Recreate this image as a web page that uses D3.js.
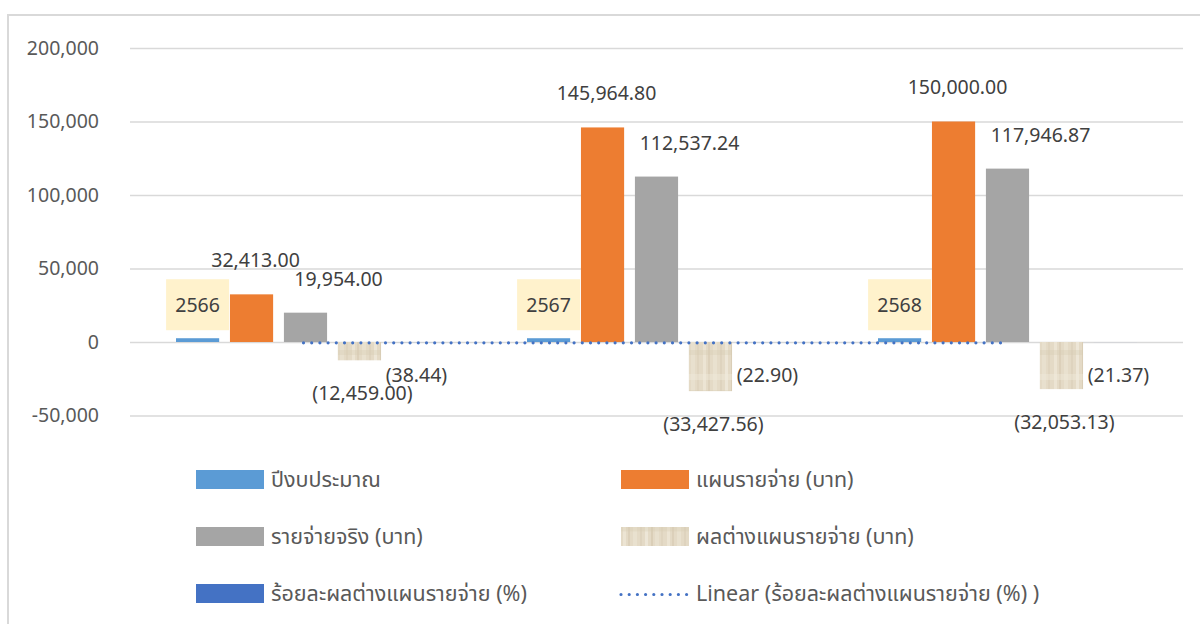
<!DOCTYPE html>
<html>
<head>
<meta charset="utf-8">
<script src="https://cdn.jsdelivr.net/npm/d3@7"></script>
<style>
    body { margin: 0; background: #fff; }
    svg { display: block; font-family: "Noto Sans", "Noto Sans Thai", Tahoma, sans-serif; }
</style>
</head>
<body>
<svg id="base" width="1200" height="624"></svg>
<script>
// data
const years = ["2566", "2567", "2568"];
const seriesNames = [
    "ปีงบประมาณ",
    "แผนรายจ่าย (บาท)",
    "รายจ่ายจริง  (บาท)",
    "ผลต่างแผนรายจ่าย (บาท)",
    "ร้อยละผลต่างแผนรายจ่าย (%)",
];
const budgetYear = [2566, 2567, 2568];
const planned = [32413.0, 145964.8, 150000.0];
const actual = [19954.0, 112537.24, 117946.87];
const diff = [-12459.0, -33427.56, -32053.13];
const diffPct = [-38.44, -22.9, -21.37];
const yTicks = [-50000, 0, 50000, 100000, 150000, 200000];
const trendName = "Linear (ร้อยละผลต่างแผนรายจ่าย (%) )";

(function () {
    const base = d3.select("#base");
    const colors = ["#5B9BD5", "#ED7D31", "#A5A5A5", "url(#papyrus)", "#4472C4"];
    const values = [budgetYear, planned, actual, diff, diffPct];

    // papyrus-like texture for the difference series
    const defs = base.append("defs");
    const pat = defs
        .append("pattern")
        .attr("id", "papyrus")
        .attr("patternUnits", "userSpaceOnUse")
        .attr("width", 44)
        .attr("height", 40);
    pat.append("rect").attr("width", 44).attr("height", 40).attr("fill", "#E4DAC6");
    const stripes = [
        [2, 3, "#EDE6D6"], [7, 2, "#D9CDB6"], [12, 4, "#EAE2D1"], [19, 2, "#DCD1BC"],
        [24, 3, "#EFE9DB"], [30, 2, "#D7CBB3"], [34, 4, "#E9E1CF"], [40, 2, "#DDD2BD"],
    ];
    pat.selectAll("rect.s")
        .data(stripes)
        .enter()
        .append("rect")
        .attr("class", "s")
        .attr("x", (d) => d[0])
        .attr("width", (d) => d[1])
        .attr("height", 40)
        .attr("fill", (d) => d[2])
        .attr("opacity", 0.8);
    pat.append("rect").attr("y", 14).attr("width", 44).attr("height", 6).attr("fill", "#F0EADC").attr("opacity", 0.4);
    pat.append("rect").attr("y", 30).attr("width", 44).attr("height", 5).attr("fill", "#D6CAB2").attr("opacity", 0.3);

    // frame
    base.append("rect")
        .attr("x", 8)
        .attr("y", 15)
        .attr("width", 1200)
        .attr("height", 620)
        .attr("fill", "none")
        .attr("stroke", "#D9D9D9")
        .attr("stroke-width", 2);

    // scales
    const x = d3.scaleBand().domain(years).range([130, 1183]);
    const gap = 46;
    const xs = d3
        .scaleBand()
        .domain(d3.range(seriesNames.length))
        .range([gap, x.bandwidth() - gap])
        .paddingInner(0.2);
    const y = d3.scaleLinear().domain([-50000, 200000]).range([415.5, 48]);

    // grid + axis labels
    const yAxis = d3
        .axisLeft(y)
        .tickValues(yTicks)
        .tickSize(-(1183 - 130))
        .tickPadding(31)
        .tickFormat((d) => d3.format(",")(d).replace("−", "-"));
    const ga = base.append("g").attr("transform", "translate(130,0)").call(yAxis);
    ga.select(".domain").remove();
    ga.selectAll(".tick line").attr("stroke", "#D9D9D9").attr("stroke-width", 1.5);
    ga.selectAll(".tick text")
        .attr("fill", "#595959")
        .attr("font-size", 19.5)
        .attr("font-family", "Noto Sans, sans-serif");

    // bars
    const groups = base
        .selectAll("g.year")
        .data(years)
        .enter()
        .append("g")
        .attr("class", "year")
        .attr("transform", (d) => `translate(${x(d)},0)`);

    groups
        .selectAll("rect")
        .data((d, i) => values.map((v, s) => ({ s: s, v: v[i] })))
        .enter()
        .append("rect")
        .attr("x", (d) => xs(d.s))
        .attr("width", xs.bandwidth())
        .attr("y", (d) => y(Math.max(0, d.v)))
        .attr("height", (d) => Math.abs(y(d.v) - y(0)))
        .attr("fill", (d) => colors[d.s]);

    // trendline of percent series (linear fit, values on main axis)
    const n = diffPct.length;
    const mx = d3.mean(d3.range(n));
    const my = d3.mean(diffPct);
    const slope =
        d3.sum(d3.range(n), (i) => (i - mx) * (diffPct[i] - my)) /
        d3.sum(d3.range(n), (i) => (i - mx) * (i - mx));
    const fit = (i) => my + slope * (i - mx);
    base.append("line")
        .attr("x1", x(years[0]) + x.bandwidth() / 2 - 2)
        .attr("x2", x(years[n - 1]) + x.bandwidth() / 2 - 4)
        .attr("y1", y(fit(0)) + 0.8)
        .attr("y2", y(fit(n - 1)) + 0.8)
        .attr("stroke", "#4472C4")
        .attr("stroke-width", 3.2)
        .attr("stroke-linecap", "round")
        .attr("stroke-dasharray", "0 8.2");

    // labels
    const fmt2 = d3.format(",.2f");
    const acct = (v) => (v < 0 ? "(" + fmt2(-v) + ")" : fmt2(v));
    const labelG = groups.append("g").attr("font-size", 19.5).attr("fill", "#404040").attr("text-anchor", "middle");

    labelG.each(function (d, i) {
        const g = d3.select(this);
        // budget year label with yellow box
        const cx = xs(0) + xs.bandwidth() / 2;
        g.append("rect")
            .attr("x", cx - 31.5)
            .attr("y", y(budgetYear[i]) - 59)
            .attr("width", 63)
            .attr("height", 51)
            .attr("fill", "#FFF2CC");
        g.append("text")
            .attr("x", cx)
            .attr("y", y(budgetYear[i]) - 33.5)
            .attr("dy", "0.35em")
            .text(budgetYear[i]);

        const c1 = xs(1) + xs.bandwidth() / 2;
        g.append("text")
            .attr("x", c1 + 4)
            .attr("y", y(planned[i]) - 34)
            .attr("dy", "0.35em")
            .text(acct(planned[i]));

        const c2 = xs(2) + xs.bandwidth() / 2;
        g.append("text")
            .attr("x", c2 + 33)
            .attr("y", y(actual[i]) - 33)
            .attr("dy", "0.35em")
            .text(acct(actual[i]));

        const c3 = xs(3) + xs.bandwidth() / 2;
        g.append("text")
            .attr("x", c3 + 3)
            .attr("y", y(diff[i]) + 33)
            .attr("dy", "0.35em")
            .text(acct(diff[i]));

        const c4 = xs(4) + xs.bandwidth() / 2;
        g.append("text")
            .attr("x", c4 + 3)
            .attr("y", y(0) + 33)
            .attr("dy", "0.35em")
            .text(acct(diffPct[i]));
    });

    // legend
    const legendItems = seriesNames
        .map((name, i) => ({ name: name, color: colors[i], line: false }))
        .concat([{ name: trendName, color: "#4472C4", line: true }]);
    const legend = base.append("g").attr("id", "legend");
    const item = legend
        .selectAll("g")
        .data(legendItems)
        .enter()
        .append("g")
        .attr("transform", (d, i) => `translate(${i % 2 ? 621 : 196},${479.5 + Math.floor(i / 2) * 57})`);
    item.filter((d) => !d.line)
        .append("rect")
        .attr("y", -9.5)
        .attr("width", 68)
        .attr("height", 19)
        .attr("fill", (d) => d.color);
    item.filter((d) => d.line)
        .append("line")
        .attr("x1", 0)
        .attr("x2", 66)
        .attr("y1", 1)
        .attr("y2", 1)
        .attr("stroke", "#4472C4")
        .attr("stroke-width", 3.2)
        .attr("stroke-linecap", "round")
        .attr("stroke-dasharray", "0 8.2");
    item.append("text")
        .attr("x", 75)
        .attr("dy", "0.35em")
        .attr("font-size", 21.5)
        .attr("fill", "#595959")
        .text((d) => d.name);
})();
</script>
</body>
</html>
